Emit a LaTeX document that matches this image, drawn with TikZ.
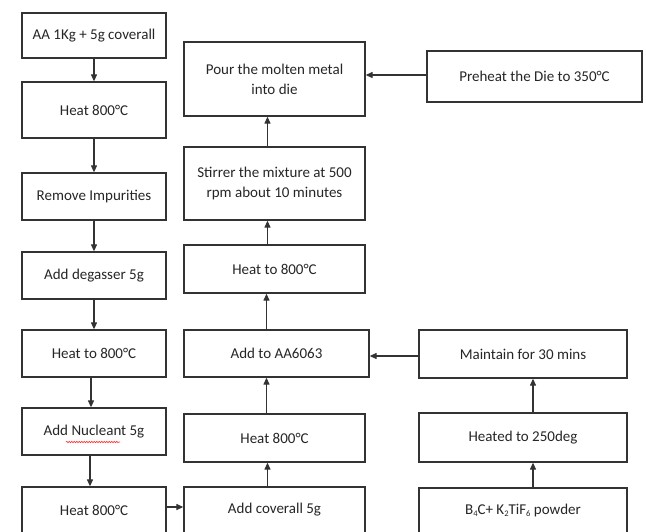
\documentclass[tikz,border=0pt]{standalone}
\usepackage{fontspec}
\setmainfont{Carlito}
\usetikzlibrary{arrows.meta,decorations.pathmorphing}
\newcommand\lowsub[1]{\raisebox{-0.35ex}{\fontsize{8.5}{8.5}\selectfont #1}}
\begin{document}
\begin{tikzpicture}[x=1pt,y=-1pt,
  box/.style={draw=black!80,line width=1.3pt,align=center,inner sep=0pt,
    font=\fontsize{15}{20}\selectfont,text=black!85},
  lbox/.style={box,minimum width=144pt},
  mbox/.style={box,minimum width=181pt},
  link/.style={draw=black!80,line width=1.2pt,-{Triangle[length=7pt,width=6pt]}}]
\useasboundingbox (0,0) rectangle (646,531);
\fill[white] (0,0) rectangle (646,531);
% left column
\node[lbox,minimum height=45pt] (l1) at (94,35.5) {AA 1Kg + 5g coverall};
\node[lbox,minimum height=56pt] (l2) at (94,110) {Heat 800°C};
\node[lbox,minimum height=47pt] (l3) at (94,196.5) {Remove Impurities};
\node[lbox,minimum height=47pt] (l4) at (94,275.5) {Add degasser 5g};
\node[lbox,minimum height=47pt] (l5) at (94,353.5) {Heat to 800°C};
\node[lbox,minimum height=47pt] (l6) at (94,431.5) {Add Nucleant 5g};
\node[lbox,minimum height=46pt] (l7) at (94,510) {Heat 800°C};
% middle column
\node[mbox,minimum height=74pt] (m1) at (274.5,79) {Pour the molten metal\\into die};
\node[mbox,minimum height=73pt] (m2) at (274.5,183.5) {Stirrer the mixture at 500\\rpm about 10 minutes};
\node[mbox,minimum height=48pt] (m3) at (274.5,269) {Heat to 800°C};
\node[box,minimum width=185pt,minimum height=47pt] (m4) at (276.5,353.5) {Add to AA6063};
\node[mbox,minimum height=48pt] (m5) at (274.5,438) {Heat 800°C};
\node[mbox,minimum height=46pt] (m6) at (274.5,510) {Add coverall 5g};
% right column
\node[box,minimum width=215pt,minimum height=51pt] (r1) at (534.5,76.5) {Preheat the Die to 350°C};
\node[box,minimum width=208pt,minimum height=48pt] (r2) at (523,354) {Maintain for 30 mins};
\node[box,minimum width=208pt,minimum height=49pt] (r3) at (523,437.5) {Heated to 250deg};
\node[box,minimum width=208pt,minimum height=45pt] (r4) at (523,510.5) {B\lowsub{4}C+ K\lowsub{2}TiF\lowsub{6} powder};
% spell-check underline
\draw[red!80,line width=0.6pt,decorate,decoration={snake,amplitude=0.7pt,segment length=2.5pt}] (66,442) -- (120,442);
% helper coordinates
\coordinate (pa) at ([yshift=1.5pt]r1.west);
\coordinate (pb) at ([yshift=-2pt]r2.west);
\coordinate (qa) at ([xshift=-8pt]m5.north);
\coordinate (qb) at ([xshift=-8pt]m3.south);
% connectors
\draw[link] (l1) -- (l2);
\draw[link] (l2) -- (l3);
\draw[link] (l3) -- (l4);
\draw[link] (l4) -- (l5);
\draw[link] ([xshift=-3pt]l5.south) -- ([xshift=-3pt]l6.north);
\draw[link] ([xshift=-4pt]l6.south) -- ([xshift=-4pt]l7.north);
\draw[link] ([yshift=3pt]l7.east) -- ([yshift=3pt]m6.west);
\draw[link] ([xshift=-7pt]m6.north) -- ([xshift=-7pt]m5.south);
\draw[link] (qa) -- (qa |- m4.south);
\draw[link] (qb |- m4.north) -- (qb);
\draw[link] ([xshift=-7pt]m3.north) -- ([xshift=-7pt]m2.south);
\draw[link] ([xshift=-7pt]m2.north) -- ([xshift=-7pt]m1.south);
\draw[link] (pa) -- (m1.east |- pa);
\draw[link] (pb) -- (m4.east |- pb);
\draw[link] ([xshift=10pt]r4.north) -- ([xshift=10pt]r3.south);
\draw[link] ([xshift=10pt]r3.north) -- ([xshift=10pt]r2.south);
\end{tikzpicture}
\end{document}
